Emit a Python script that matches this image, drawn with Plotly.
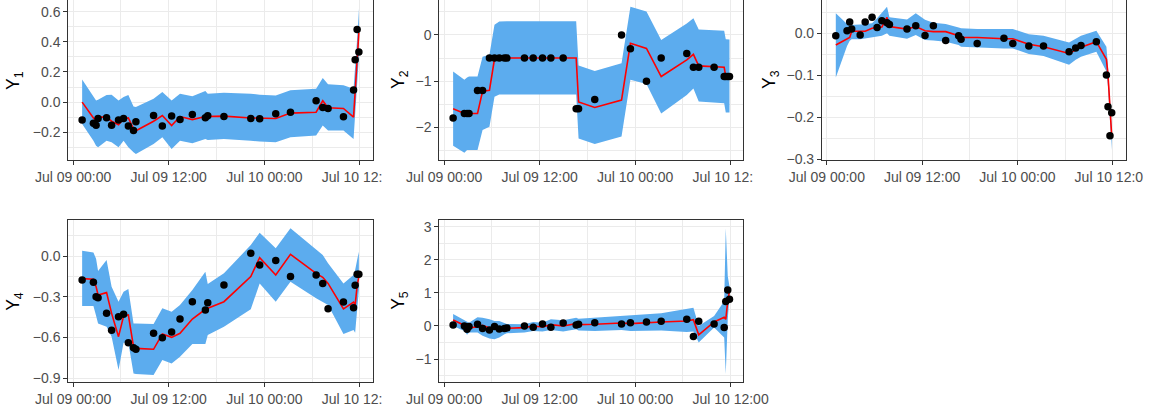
import plotly.graph_objects as go
import pandas as pd

# ---------------- data ----------------
times = ["2020-07-09 01:08", "2020-07-09 02:33", "2020-07-09 02:53", "2020-07-09 03:08",
         "2020-07-09 04:12", "2020-07-09 04:50", "2020-07-09 05:42", "2020-07-09 06:20",
         "2020-07-09 06:56", "2020-07-09 07:35", "2020-07-09 07:53", "2020-07-09 10:06",
         "2020-07-09 11:12", "2020-07-09 12:22", "2020-07-09 13:25", "2020-07-09 14:58",
         "2020-07-09 16:36", "2020-07-09 16:54", "2020-07-09 18:56", "2020-07-09 22:18",
         "2020-07-09 23:25", "2020-07-10 01:26", "2020-07-10 03:17", "2020-07-10 06:30",
         "2020-07-10 07:20", "2020-07-10 08:00", "2020-07-10 09:56", "2020-07-10 11:12",
         "2020-07-10 11:24", "2020-07-10 11:39", "2020-07-10 11:52"]

obs1 = [-0.118, -0.14, -0.153, -0.109, -0.104, -0.153, -0.118, -0.109, -0.158, -0.189, -0.131,
        -0.089, -0.158, -0.093, -0.116, -0.082, -0.104, -0.091, -0.096, -0.109, -0.111, -0.078,
        -0.067, 0.009, -0.036, -0.042, -0.098, 0.08, 0.28, 0.482, 0.333]
mean1 = [0.0, -0.105, -0.12, -0.10, -0.10, -0.127, -0.15, -0.11, -0.105, -0.178, -0.19,
         -0.127, -0.089, -0.156, -0.096, -0.116, -0.096, -0.096, -0.093, -0.105, -0.107, -0.109,
         -0.073, -0.067, 0.009, -0.038, -0.042, -0.10, 0.07, 0.27, 0.46]
hi1 = [0.149, 0.044, 0.011, 0.016, 0.047, 0.049, 0.011, 0.033, 0.047, -0.029, -0.033,
       0.022, 0.067, 0.011, 0.056, 0.038, 0.073, 0.056, 0.062, 0.056, 0.049, 0.044,
       0.078, 0.089, 0.16, 0.118, 0.111, 0.089, 0.22, 0.42, 0.62]
lo1 = [-0.145, -0.256, -0.289, -0.3, -0.256, -0.267, -0.3, -0.256, -0.3, -0.333, -0.344,
       -0.278, -0.233, -0.311, -0.256, -0.273, -0.244, -0.251, -0.244, -0.256, -0.262, -0.267,
       -0.233, -0.222, -0.156, -0.189, -0.189, -0.244, -0.08, 0.12, 0.30]

obs2 = [-1.8, -1.7, -1.7, -1.7, -1.2, -1.2, -0.5, -0.5, -0.5, -0.5, -0.5,
        -0.5, -0.5, -0.5, -0.5, -0.5, -1.6, -1.6, -1.4, 0.0, -0.3, -1.0,
        -0.5, -0.4, -0.7, -0.7, -0.7, -0.9, -0.9, -0.9, -0.9]
mean2 = [-1.6, -1.7, -1.7, -1.7, -1.7, -1.22, -1.2, -0.52, -0.5, -0.5, -0.5,
         -0.5, -0.5, -0.5, -0.5, -0.5, -0.5, -1.45, -1.57, -1.41, -0.18, -0.29,
         -0.9, -0.54, -0.42, -0.67, -0.69, -0.7, -0.9, -0.9, -0.9]
hi2 = [-0.79, -0.97, -0.92, -0.90, -0.90, -0.47, -0.43, 0.22, 0.29, 0.30, 0.30,
       0.30, 0.30, 0.30, 0.30, 0.30, 0.30, -0.66, -0.78, -0.61, 0.61, 0.51,
       -0.11, 0.25, 0.36, 0.12, 0.11, 0.09, -0.09, -0.10, -0.10]
lo2 = [-2.40, -2.55, -2.49, -2.49, -2.49, -2.06, -1.99, -1.34, -1.29, -1.29, -1.29,
       -1.29, -1.29, -1.29, -1.29, -1.29, -1.29, -2.24, -2.36, -2.20, -0.97, -1.06,
       -1.70, -1.30, -1.16, -1.44, -1.47, -1.48, -1.68, -1.68, -1.68]

obs3 = [-0.006, 0.006, 0.027, 0.010, -0.004, 0.027, 0.038, 0.014, 0.030, 0.025, 0.021,
        0.010, 0.018, -0.005, 0.018, -0.017, -0.006, -0.014, -0.024, -0.012, -0.024, -0.030,
        -0.030, -0.044, -0.035, -0.029, -0.020, -0.099, -0.175, -0.244, -0.189]
mean3 = [-0.028, -0.013, -0.010, 0.005, 0.006, 0.005, 0.012, 0.013, 0.015, 0.038, 0.016,
         0.010, 0.016, 0.006, 0.004, 0.004, -0.006, -0.010, -0.010, -0.013, -0.013, -0.026,
         -0.032, -0.048, -0.040, -0.033, -0.020, -0.062, -0.099, -0.175, -0.244]
hi3 = [0.048, 0.022, 0.020, 0.020, 0.021, 0.022, 0.024, 0.036, 0.048, 0.063, 0.038,
       0.033, 0.048, 0.032, 0.025, 0.022, 0.014, 0.012, 0.010, 0.010, 0.010, -0.002,
       -0.006, -0.022, -0.012, -0.006, 0.006, -0.032, -0.079, -0.159, -0.222]
lo3 = [-0.105, -0.030, -0.018, -0.014, -0.014, -0.012, -0.010, -0.008, -0.006, 0.000, -0.006,
       -0.013, -0.004, -0.016, -0.017, -0.020, -0.028, -0.032, -0.033, -0.036, -0.036, -0.049,
       -0.054, -0.075, -0.063, -0.056, -0.044, -0.091, -0.127, -0.198, -0.278]

obs4 = [-0.177, -0.194, -0.30, -0.307, -0.423, -0.548, -0.448, -0.430, -0.639, -0.676, -0.688,
        -0.570, -0.602, -0.561, -0.465, -0.337, -0.398, -0.344, -0.214, 0.020, -0.066, -0.034,
        -0.152, -0.14, -0.202, -0.389, -0.339, -0.381, -0.216, -0.135, -0.135]
mean4 = [-0.167, -0.172, -0.226, -0.288, -0.27, -0.423, -0.595, -0.443, -0.435, -0.669, -0.681,
         -0.688, -0.575, -0.60, -0.57, -0.465, -0.393, -0.386, -0.337, -0.152, -0.012, -0.14,
         0.012, -0.128, -0.157, -0.202, -0.39, -0.34, -0.36, -0.22, -0.15]
hi4 = [0.039, 0.025, -0.02, -0.11, -0.03, -0.226, -0.337, -0.263, -0.243, -0.497, -0.497,
       -0.502, -0.386, -0.411, -0.361, -0.251, -0.116, -0.207, -0.128, 0.081, 0.172, 0.057,
       0.204, 0.044, 0.007, -0.054, -0.202, -0.140, -0.103, -0.03, 0.032]
lo4 = [-0.369, -0.369, -0.44, -0.497, -0.521, -0.595, -0.841, -0.64, -0.64, -0.866, -0.870,
       -0.878, -0.767, -0.792, -0.743, -0.649, -0.649, -0.583, -0.521, -0.393, -0.202, -0.337,
       -0.189, -0.312, -0.337, -0.361, -0.575, -0.546, -0.566, -0.423, -0.251]

obs5 = [0.03, 0.0, -0.1, -0.02, 0.05, -0.08, -0.12, -0.02, -0.09, -0.08, -0.06,
        0.0, -0.04, 0.06, -0.04, 0.09, 0.03, 0.05, 0.10, 0.06, 0.10, 0.12,
        0.14, 0.20, -0.32, 0.14, 0.06, -0.05, 0.74, 1.09, 0.81]
mean5 = [0.18, 0.02, 0.0, -0.05, -0.03, 0.02, -0.06, -0.1, -0.05, -0.08, -0.07,
         -0.05, 0.0, -0.03, 0.04, 0.0, 0.07, 0.04, 0.05, 0.09, 0.07, 0.10,
         0.12, 0.15, 0.19, -0.27, 0.12, 0.26, 0.2, 0.75, 1.05]
hi5 = [0.36, 0.18, 0.12, 0.10, 0.26, 0.25, 0.20, 0.15, 0.15, 0.08, 0.06,
       0.05, 0.12, 0.10, 0.20, 0.17, 0.25, 0.22, 0.25, 0.30, 0.30, 0.35,
       0.38, 0.52, 0.55, 0.0, 0.30, 0.75, 2.95, 1.5, 1.2]
lo5 = [0.0, -0.15, -0.27, -0.2, -0.2, -0.3, -0.38, -0.4, -0.35, -0.25, -0.22,
       -0.2, -0.15, -0.17, -0.12, -0.17, -0.1, -0.14, -0.15, -0.12, -0.15, -0.15,
       -0.14, -0.18, -0.17, -0.5, -0.05, -0.35, -1.45, 0.2, 0.9]

x_tick_vals = ["2020-07-09 00:00", "2020-07-09 12:00", "2020-07-10 00:00", "2020-07-10 12:00"]
x_tick_full = ["Jul 09 00:00", "Jul 09 12:00", "Jul 10 00:00", "Jul 10 12:00"]
x_tick_cut2 = ["Jul 09 00:00", "Jul 09 12:00", "Jul 10 00:00", "Jul 10 12:\u2007\u2007"]
x_tick_cut1 = ["Jul 09 00:00", "Jul 09 12:00", "Jul 10 00:00", "Jul 10 12:0\u2007"]
x_minor_vals = ["2020-07-09 06:00", "2020-07-09 18:00", "2020-07-10 06:00"]

y1_ticks = [-0.2, 0.0, 0.2, 0.4, 0.6]
y1_labels = ["\u22120.2", "0.0", "0.2", "0.4", "0.6"]
y1_minor = [-0.3, -0.1, 0.1, 0.3, 0.5]
y2_ticks = [-2, -1, 0]
y2_labels = ["\u22122", "\u22121", "0"]
y2_minor = [-2.5, -1.5, -0.5, 0.5]
y3_ticks = [-0.3, -0.2, -0.1, 0.0]
y3_labels = ["\u22120.3", "\u22120.2", "\u22120.1", "0.0"]
y3_minor = [-0.25, -0.15, -0.05, 0.05]
y4_ticks = [-0.9, -0.6, -0.3, 0.0]
y4_labels = ["\u22120.9", "\u22120.6", "\u22120.3", "0.0"]
y4_minor = [-0.75, -0.45, -0.15, 0.15]
y5_ticks = [-1, 0, 1, 2, 3]
y5_labels = ["\u22121", "0", "1", "2", "3"]
y5_minor = [-1.5, -0.5, 0.5, 1.5, 2.5]

# ---------------- layout helpers ----------------
W, H = 1158, 414
FONT = "Liberation Sans, Arial, Helvetica, sans-serif"
BAND = "#5CACEE"
GRID = "#EBEBEB"
AXC = "#333333"

t = pd.to_datetime(times)
span = t.max() - t.min()
x_range = [t.min() - 0.05 * span, t.max() + 0.05 * span]

panels = [
    dict(obs=obs1, mean=mean1, lo=lo1, hi=hi1, px=(68.3, 372.7), py=(0, 160),
         yr=(-0.384, 0.677), tv=y1_ticks, tt=y1_labels, mv=y1_minor, xt=x_tick_cut2,
         top=False, title="Y<sub>1</sub>", tx=15),
    dict(obs=obs2, mean=mean2, lo=lo2, hi=hi2, px=(439.3, 743.3), py=(0, 160),
         yr=(-2.708, 0.758), tv=y2_ticks, tt=y2_labels, mv=y2_minor, xt=x_tick_cut2,
         top=False, title="Y<sub>2</sub>", tx=400),
    dict(obs=obs3, mean=mean3, lo=lo3, hi=hi3, px=(822.0, 1125.5), py=(0, 160),
         yr=(-0.3017, 0.0793), tv=y3_ticks, tt=y3_labels, mv=y3_minor, xt=x_tick_cut1,
         top=False, title="Y<sub>3</sub>", tx=771),
    dict(obs=obs4, mean=mean4, lo=lo4, hi=hi4, px=(68.3, 372.7), py=(220, 381.7),
         yr=(-0.927, 0.2655), tv=y4_ticks, tt=y4_labels, mv=y4_minor, xt=x_tick_cut2,
         top=True, title="Y<sub>4</sub>", tx=15),
    dict(obs=obs5, mean=mean5, lo=lo5, hi=hi5, px=(439.3, 743.3), py=(220, 381.7),
         yr=(-1.686, 3.203), tv=y5_ticks, tt=y5_labels, mv=y5_minor, xt=x_tick_full,
         top=True, title="Y<sub>5</sub>", tx=400),
]

fig = go.Figure()
annotations = []
for i, p in enumerate(panels, start=1):
    xa = "x" if i == 1 else f"x{i}"
    ya = "y" if i == 1 else f"y{i}"
    band_x = list(t) + list(t[::-1])
    band_y = list(p["hi"]) + list(p["lo"][::-1])
    fig.add_trace(go.Scatter(x=band_x, y=band_y, fill="toself", fillcolor=BAND,
                             line=dict(width=0, color=BAND), mode="lines",
                             hoverinfo="skip", showlegend=False, xaxis=xa, yaxis=ya))
    fig.add_trace(go.Scatter(x=t, y=p["mean"], mode="lines",
                             line=dict(color="#FF0000", width=1.6),
                             showlegend=False, xaxis=xa, yaxis=ya))
    fig.add_trace(go.Scatter(x=t, y=p["obs"], mode="markers",
                             marker=dict(color="black", size=7.5),
                             showlegend=False, xaxis=xa, yaxis=ya))

    xkey = "xaxis" if i == 1 else f"xaxis{i}"
    ykey = "yaxis" if i == 1 else f"yaxis{i}"
    fig.update_layout(**{
        xkey: dict(
            domain=[p["px"][0] / W, p["px"][1] / W], anchor=ya, type="date",
            range=x_range, tickmode="array", tickvals=x_tick_vals, ticktext=p["xt"],
            showgrid=True, gridcolor=GRID, gridwidth=1.1,
            minor=dict(tickmode="array", tickvals=x_minor_vals, showgrid=True,
                       gridcolor=GRID, gridwidth=0.55),
            showline=True, linecolor=AXC, linewidth=1.1, mirror=p["top"],
            ticks="outside", ticklen=4, tickwidth=1.1, tickcolor=AXC,
            tickfont=dict(family=FONT, size=14, color="#4D4D4D"),
            zeroline=False, fixedrange=True, automargin=False,
        ),
        ykey: dict(
            domain=[1 - p["py"][1] / H, 1 - p["py"][0] / H], anchor=xa,
            range=list(p["yr"]), tickmode="array", tickvals=p["tv"], ticktext=p["tt"],
            showgrid=True, gridcolor=GRID, gridwidth=1.1,
            minor=dict(tickmode="array", tickvals=p["mv"], showgrid=True,
                       gridcolor=GRID, gridwidth=0.55),
            showline=True, linecolor=AXC, linewidth=1.1, mirror=True,
            ticks="outside", ticklen=4, tickwidth=1.1, tickcolor=AXC,
            tickfont=dict(family=FONT, size=14, color="#4D4D4D"),
            zeroline=False, fixedrange=True, automargin=False,
        ),
    })
    ymid = (p["py"][0] + p["py"][1]) / 2
    annotations.append(dict(text=p["title"], xref="paper", yref="paper",
                            x=p["tx"] / W, y=1 - ymid / H, xanchor="center",
                            yanchor="middle", textangle=-90, showarrow=False,
                            font=dict(family=FONT, size=17.5, color="black")))

fig.update_layout(width=W, height=H, margin=dict(l=0, r=0, t=0, b=0, autoexpand=False),
                  paper_bgcolor="white", plot_bgcolor="white",
                  annotations=annotations, showlegend=False)

fig.write_html("out.html", config={"displayModeBar": False},
               post_script="document.body.style.margin='0px';")
